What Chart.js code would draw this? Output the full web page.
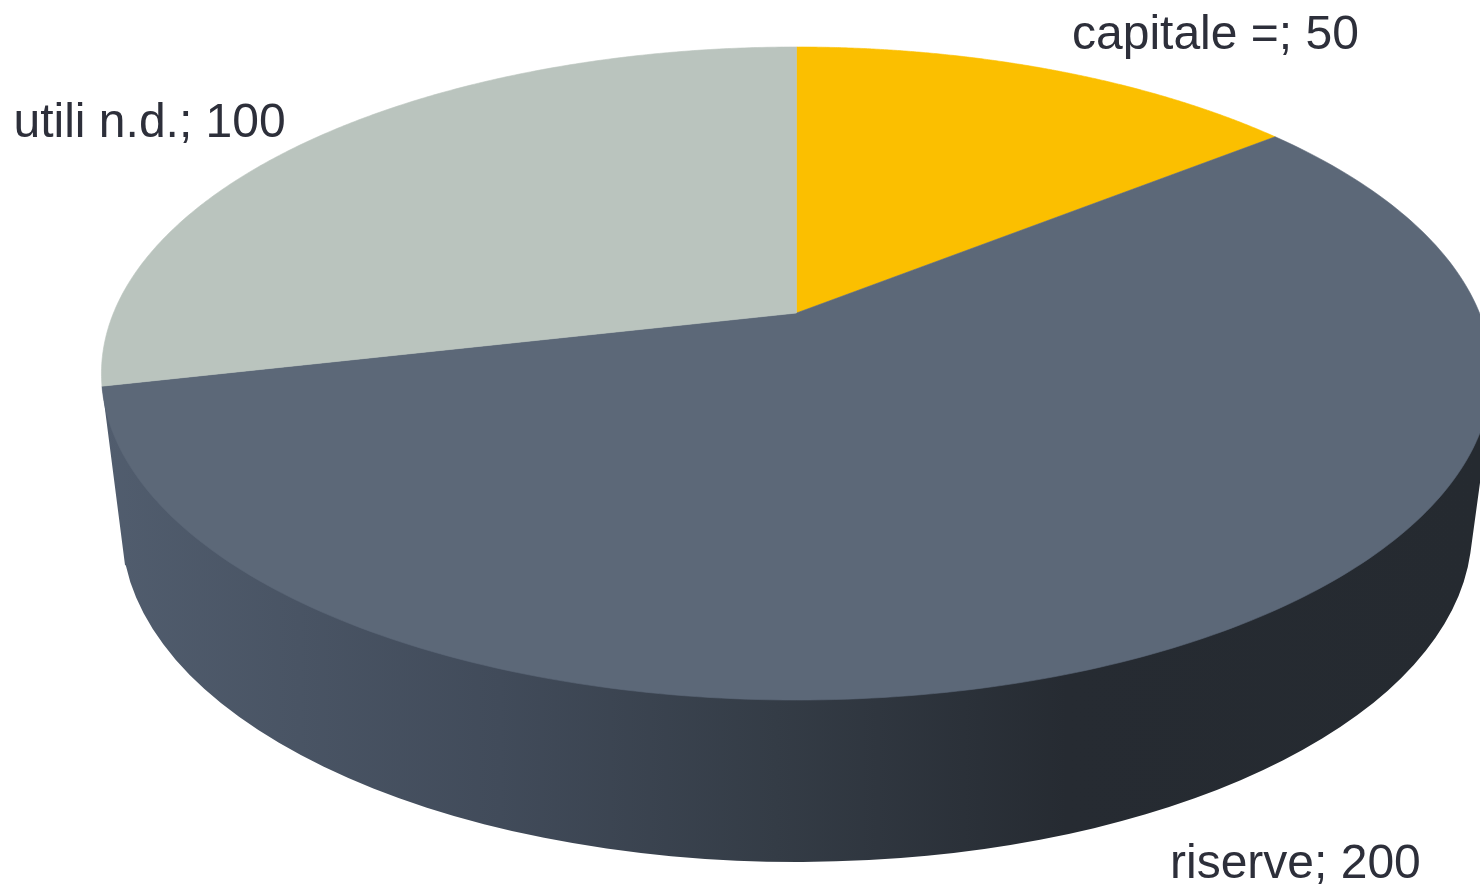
<!DOCTYPE html>
<html>
<head>
<meta charset="utf-8">
<style>html,body{margin:0;padding:0;background:#fff;overflow:hidden}canvas{display:block}</style>
<script src="https://cdn.jsdelivr.net/npm/chart.js@4"></script>
</head>
<body>
<canvas id="c" width="1480" height="885"></canvas>
<script>
const categories = ["capitale =", "riserve", "utili n.d."];
const values = [50, 200, 100];
const colors = ["#FBBF00", "#5C6878", "#BAC4BE"];
const labelAnchors = [[1072, 49], [1170, 878], [13.5, 137]];

// perspective projection of the pie's unit circle on to the page
const proj = { cx: 796.5, cy: 313, a: 683, b: 257.3, c: -0.1853 };
function project(angle) {
  const X = Math.cos(angle), Y = Math.sin(angle), w = 1 + proj.c * Y;
  return [proj.cx + proj.a * X / w, (proj.b * Y + proj.cy) / w];
}

const pie3d = {
  id: "pie3d",
  beforeDatasetDraw(chart) {
    const ctx = chart.ctx, arcs = chart.getDatasetMeta(0).data;
    ctx.save();
    // side wall
    const g = ctx.createLinearGradient(100, 0, 1480, 0);
    g.addColorStop(0, "#515d6e");
    g.addColorStop(0.29, "#414b5a");
    g.addColorStop(0.49, "#343c46");
    g.addColorStop(0.70, "#262b32");
    g.addColorStop(1, "#252a30");
    ctx.fillStyle = g;
    ctx.beginPath();
    ctx.moveTo(102, 386);
    ctx.lineTo(125, 565);
    ctx.ellipse(797, 530, 675, 332, 0, Math.PI * 0.966, Math.PI * 0.022, true);
    ctx.lineTo(1495, 373);
    ctx.closePath();
    ctx.fill();
    // top slices
    arcs.forEach((arc, i) => {
      ctx.fillStyle = colors[i];
      ctx.strokeStyle = colors[i];
      ctx.lineWidth = 0.6;
      ctx.lineJoin = "round";
      ctx.beginPath();
      ctx.moveTo(proj.cx, proj.cy);
      const steps = 240;
      for (let s = 0; s <= steps; s++) {
        const p = project(arc.startAngle + (arc.endAngle - arc.startAngle) * s / steps);
        ctx.lineTo(p[0], p[1]);
      }
      ctx.closePath();
      ctx.fill();
      ctx.stroke();
    });
    ctx.restore();
    return false;
  },
  afterDatasetsDraw(chart) {
    const ctx = chart.ctx;
    ctx.save();
    ctx.font = '48px "Liberation Sans", Arial, sans-serif';
    ctx.fillStyle = "#2d2f3a";
    ctx.textBaseline = "alphabetic";
    categories.forEach((name, i) => {
      ctx.fillText(name + "; " + values[i], labelAnchors[i][0], labelAnchors[i][1]);
    });
    ctx.restore();
  }
};

new Chart(document.getElementById("c"), {
  type: "pie",
  data: { labels: categories, datasets: [{ data: values, backgroundColor: colors, borderWidth: 0 }] },
  options: {
    responsive: false,
    animation: false,
    plugins: { legend: { display: false }, tooltip: { enabled: false } }
  },
  plugins: [pie3d]
});
</script>
</body>
</html>
